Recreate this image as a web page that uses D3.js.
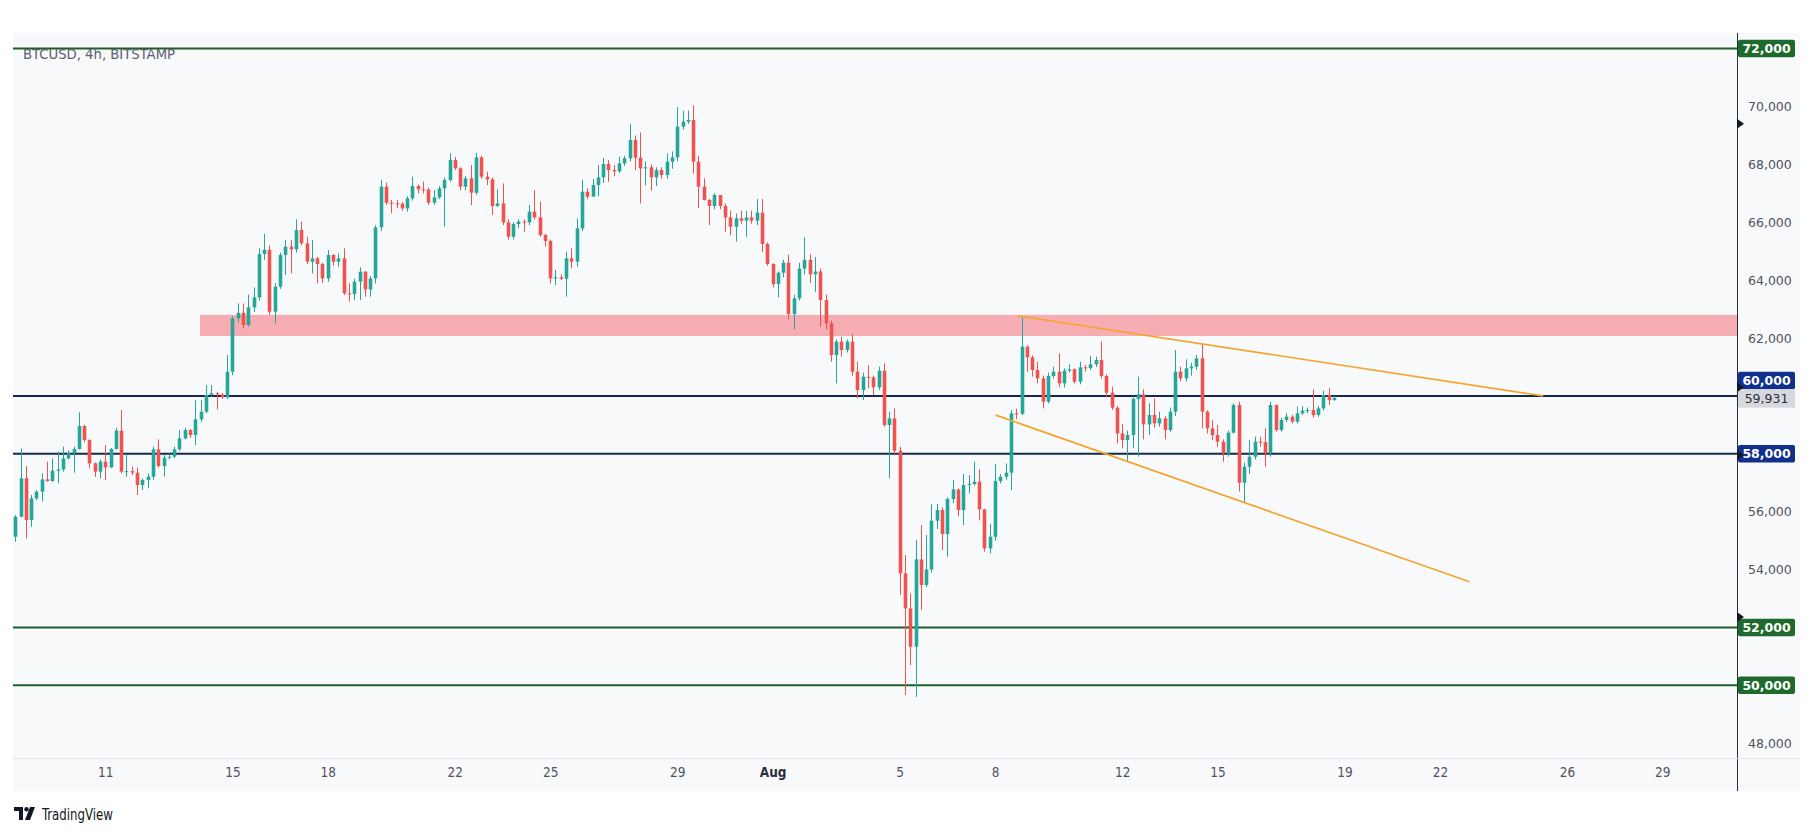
<!DOCTYPE html>
<html><head><meta charset="utf-8">
<script src="https://cdn.jsdelivr.net/npm/d3@7"></script>
<style>body{margin:0;background:#fff}</style></head>
<body><svg id="c" width="1815" height="836"></svg>
<script>
// ---- data ----
const symbolLabel = "BTCUSD, 4h, BITSTAMP";
const firstOpen = 55136;
const startDay = -17 / 6;            // first candle: 8 Jul 04:00, in days from 11 Jul 00:00
const candleStepDays = 1 / 6;        // 4h candles
const closes = [55827,57152,55712,56460,56690,57117,57060,57417,57460,57843,58016,58166,58960,58477,57670,57383,57728,57532,58166,58800,
57383,57400,57350,56922,57095,57210,58154,57578,57866,57900,58154,58534,58822,58650,59191,59456,60032,60090,60050,59950,
60836,62680,62870,62450,63060,63405,64900,65050,62910,63773,64868,65156,65064,65732,65271,64637,64753,64557,64061,64868,
64637,64753,63543,63520,63946,64292,63681,64061,65824,67229,66676,66653,66640,66480,66826,67252,67137,67130,66676,66860,
67172,67460,68151,67863,67229,67517,67022,68243,67575,67483,66561,66653,65997,65501,65939,66020,66000,66365,66170,65559,
65351,64061,64100,64050,64753,64637,65789,67056,66884,67287,67552,68013,67805,67760,68036,68209,68842,68232,67863,67897,
67552,67805,67633,68093,68243,69303,69476,69533,68093,67229,66769,66562,66941,66562,66170,65847,66135,66054,66170,66054,
66331,65248,64557,63865,64257,64603,62829,63371,64400,64700,64200,64300,63314,62508,61413,61874,61586,61874,60837,60203,
60664,60640,60296,60872,58994,59224,58107,53867,52658,51333,54351,53464,54005,55688,56056,55227,56437,56770,56056,56920,
56955,57035,56079,54731,55135,57058,57208,57346,59397,59380,61701,61333,60895,60607,59800,60688,60837,60434,60872,60918,
60492,60987,60960,61091,61240,60688,60112,59593,58706,58476,58649,59893,60054,59017,59340,59052,59225,58821,59455,60837,
60607,60953,61010,61298,59455,58879,58649,58418,58015,58729,59685,57000,57554,57900,58418,58400,58015,59685,58821,59167,
59282,59109,59397,59490,59513,59340,59570,60031,59858,59931];
const highs = [55885,58188,57578,56575,56750,57325,57728,57844,58073,58246,58120,58246,59433,59000,58500,57700,57800,58304,58200,58900,
59513,57993,57555,57532,57150,57325,58246,58500,57950,58000,58250,58822,58900,58850,59860,59860,60377,60377,60147,60100,
61412,62750,63200,63190,63500,63750,65100,65600,65200,63900,64950,65386,65386,66100,66020,65500,65386,64800,64600,65040,
64900,64926,65098,63888,64050,64442,64315,64150,65900,67460,67367,66770,66770,66700,66900,67575,67300,67402,67200,67114,
67250,67550,68381,68250,67900,67600,67978,68400,68300,67748,67550,67137,67344,66100,66000,66100,66100,66596,67114,66711,
65600,65400,64350,64200,64983,65098,66135,67460,67172,67500,67978,68220,68150,67978,68266,68300,69391,69000,69100,68100,
68000,67900,67900,68381,68450,69979,69852,69860,70040,68300,67517,66800,67000,66900,66654,66400,66300,66400,66400,66400,
66800,66800,65300,64580,64300,64700,64880,63500,64600,65480,64900,64800,64400,63500,62600,61950,62047,61950,62139,61183,
60800,61068,60700,61010,61126,59455,59570,58240,54501,53176,55020,55538,55193,56264,56264,56150,56500,57093,56800,57300,
57265,57727,57462,56100,55573,57646,57300,57670,59512,59560,62715,61750,61400,61183,60700,60800,61010,61471,60950,61091,
60950,61183,61067,61379,61355,61874,60750,60320,59650,59028,58800,60000,60665,60227,59743,59916,59455,59300,59600,61586,
61010,61263,61148,61413,61816,59500,59167,59000,58500,58800,59743,59800,57700,58476,58591,58591,58879,59800,59700,59250,
59400,59340,59628,59650,59600,60227,59650,60180,60261,60000];
const lows = [54963,55800,55078,55480,56400,56345,57036,57030,56980,57382,57800,57348,58150,58400,57500,57200,57150,57094,57500,58150,
57325,57210,57267,56575,56750,56807,57100,57530,57210,57800,57850,58100,58500,58550,58304,59100,59400,59974,59536,59900,
59900,60720,62550,62330,62400,62900,63300,64700,62800,62507,63700,64177,64235,64950,65200,64550,64234,63889,63900,63946,
64500,64465,63485,63255,63313,63313,63428,63428,63888,65700,66600,66308,66480,66400,66365,66750,67000,66999,66600,66600,
66800,65847,67400,67800,67100,67100,66596,66950,67500,67287,66250,66538,65900,65400,65400,65800,65674,65900,66100,65500,
65156,63888,63830,64000,63428,64407,64464,65700,66800,66900,66896,67360,67400,67590,67700,67950,68100,67805,66654,67272,
67091,67253,67500,67500,67850,68100,69200,69400,67675,66493,66750,65904,66450,66450,65674,65547,65339,65950,65500,65950,
65900,64971,64500,63750,63400,64100,62645,62300,63300,64200,63900,63600,62392,62300,61183,60434,61356,61500,60700,59916,
59858,60261,60031,60200,58937,57150,58000,53119,49663,50700,49605,52600,53400,53900,55400,54674,54443,56300,55849,55540,
56632,56900,55700,54615,54558,55000,56978,57100,56748,59200,59340,60837,60665,60434,59570,59743,60600,60300,60296,60800,
60434,60400,60837,60900,61000,60600,59973,59513,58361,58188,57727,58188,57900,58499,58649,58900,58937,58499,58763,59300,
60500,60500,60700,60900,58879,58706,58476,58245,57727,57900,58700,56700,56300,57300,57800,58245,57554,57900,58764,58764,
59100,59050,59050,59340,59400,59250,59282,59500,59685,59830];

const levelPrices = [72000, 60000, 58000, 52000, 50000];
const levelKinds  = ["green", "blue", "blue", "green", "green"];
const axisPrices  = [48000, 54000, 56000, 62000, 64000, 66000, 68000, 70000];
const markerPrices = [69400, 60300, 57960, 52360];
const lastPrice = 59931;

const dateTickDays   = [0, 4, 7, 11, 14, 18, 21, 25, 28, 32, 35, 39, 42, 46, 49];
const dateTickLabels = ["11","15","18","22","25","29","Aug","5","8","12","15","19","22","26","29"];

const zoneLow = 62070, zoneHigh = 62800, zoneStartDay = 2.98;
const upperTrend = [[28.70, 62771], [45.25, 60000]];
const lowerTrend = [[28.02, 59337], [42.93, 53582]];

// ---- layout ----
const svg = d3.select("#c");
const L = 13, R = 1737, T = 33, B = 758, AXR = 1800, AXB = 791;
const x = d3.scaleLinear().domain([-2.905, 51.35]).range([L, R]);
const y = d3.scaleLinear().domain([47490, 72539]).range([B, T]);
const COL = {up: "#26a69a", down: "#ef5350", green: "#1c5f28", blue: "#13294f",
             gBox: "#1d6a2c", bBox: "#10308c"};

svg.append("rect").attr("x", L).attr("y", T).attr("width", AXR - L).attr("height", AXB - T).attr("fill", "#f8f9fb");
svg.append("defs").append("clipPath").attr("id", "plot")
  .append("rect").attr("x", L).attr("y", T).attr("width", R - L).attr("height", B - T);
const g = svg.append("g").attr("clip-path", "url(#plot)");

// pink zone
g.append("rect").attr("x", x(zoneStartDay)).attr("width", R - x(zoneStartDay))
  .attr("y", y(zoneHigh)).attr("height", y(zoneLow) - y(zoneHigh)).attr("fill", "#f5adb3");

// levels
levelPrices.forEach((p, i) => {
  g.append("line").attr("x1", L).attr("x2", R).attr("y1", y(p)).attr("y2", y(p))
    .attr("stroke", COL[levelKinds[i]]).attr("stroke-width", 2);
});

// candles
const candles = closes.map((c, i) => ({
  t: startDay + i * candleStepDays, o: i ? closes[i - 1] : firstOpen, h: highs[i], l: lows[i], c
}));
const cg = g.append("g");
const bw = 3.6;
candles.forEach(d => {
  const col = d.c >= d.o ? COL.up : COL.down;
  const cx = Math.round(x(d.t)) + 0.5;
  cg.append("line").attr("x1", cx).attr("x2", cx).attr("y1", y(d.h)).attr("y2", y(d.l))
    .attr("stroke", col).attr("stroke-width", 1);
  const top = y(Math.max(d.o, d.c)), bot = y(Math.min(d.o, d.c));
  cg.append("rect").attr("x", cx - bw / 2).attr("width", bw)
    .attr("y", top).attr("height", Math.max(1, bot - top)).attr("fill", col);
});

// trend lines
const tl = d3.line().x(d => x(d[0])).y(d => y(d[1]));
[upperTrend, lowerTrend].forEach(seg => {
  g.append("path").attr("d", tl(seg)).attr("fill", "none").attr("stroke", "#f5a42a").attr("stroke-width", 1.7);
});

// separators
svg.append("line").attr("x1", R + 0.5).attr("x2", R + 0.5).attr("y1", T).attr("y2", AXB).attr("stroke", "#2a2e39").attr("stroke-width", 1);
svg.append("line").attr("x1", L).attr("x2", AXR).attr("y1", B + 0.5).attr("y2", B + 0.5).attr("stroke", "#e0e3eb").attr("stroke-width", 1);

// right price axis
const ya = svg.append("g").attr("transform", `translate(${R},0)`)
  .call(d3.axisRight(y).tickValues(axisPrices).tickFormat(d3.format(",")).tickSize(0).tickPadding(11));
ya.select(".domain").remove();
ya.selectAll("text").attr("font-family", "'DejaVu Sans', Verdana, sans-serif").attr("font-size", 12.5).attr("fill", "#50535e");

// bottom date axis
const xa = svg.append("g").attr("transform", `translate(0,${B})`)
  .call(d3.axisBottom(x).tickValues(dateTickDays).tickFormat((d, i) => dateTickLabels[i]).tickSize(0).tickPadding(9));
xa.select(".domain").remove();
xa.selectAll("text").attr("font-family", "'Liberation Sans Narrow','DejaVu Sans Condensed','Roboto Condensed',Roboto,sans-serif")
  .attr("font-size", 13.5).attr("fill", "#50535e")
  .attr("font-weight", (d, i) => dateTickLabels[i] === "Aug" ? "bold" : "normal")
  .attr("fill", (d, i) => dateTickLabels[i] === "Aug" ? "#2a2e39" : "#50535e");

// level boxes on the axis
const boxW = 57, boxH = 17.5;
const lastY = y(lastPrice);
levelPrices.forEach((p, i) => {
  let cy = y(p);
  if (p === 60000) cy = lastY - boxH - 0.5 - boxH / 2 + boxH / 2 - boxH / 2 + 0; // sits just above last price box
  if (p === 60000) cy = lastY - boxH;
  svg.append("rect").attr("x", R + 1).attr("y", cy - boxH / 2).attr("width", boxW).attr("height", boxH)
    .attr("rx", 2).attr("fill", levelKinds[i] === "green" ? COL.gBox : COL.bBox);
  svg.append("text").attr("x", R + 1 + boxW / 2).attr("y", cy + 4.5).attr("text-anchor", "middle")
    .attr("font-family", "'DejaVu Sans', Verdana, sans-serif").attr("font-size", 12.5).attr("font-weight", "bold")
    .attr("fill", "#fff").text(d3.format(",")(p));
});
svg.append("rect").attr("x", R + 1).attr("y", lastY - boxH / 2).attr("width", boxW).attr("height", boxH + 1)
  .attr("fill", "#d6d8dd");
svg.append("text").attr("x", R + 1 + boxW / 2).attr("y", lastY + 5).attr("text-anchor", "middle")
  .attr("font-family", "'DejaVu Sans', Verdana, sans-serif").attr("font-size", 12.5)
  .attr("fill", "#2a2e39").text(d3.format(",")(lastPrice));

// small markers on the axis edge
markerPrices.forEach(p => {
  const yy = y(p);
  svg.append("path").attr("d", `M${R},${yy - 5}L${R + 7},${yy}L${R},${yy + 5}Z`).attr("fill", "#131722");
});

// symbol label
svg.append("text").attr("x", 23).attr("y", 59).attr("font-family", "'Liberation Sans Narrow','DejaVu Sans Condensed',Roboto,sans-serif")
  .attr("font-size", 14).attr("fill", "#5d606b").attr("textLength", 152).attr("lengthAdjust", "spacingAndGlyphs").text(symbolLabel);

// TradingView logo
const lg = svg.append("g").attr("transform", "translate(14,807)").attr("fill", "#131722");
lg.append("path").attr("d", "M0,0H9V13H5V4H0Z");
lg.append("circle").attr("cx", 12.5).attr("cy", 2.2).attr("r", 2.2);
lg.append("path").attr("d", "M16,0H21L16,13H11Z");
svg.append("text").attr("x", 42).attr("y", 820).attr("font-family", "'Liberation Sans Narrow','DejaVu Sans Condensed',Roboto,sans-serif")
  .attr("font-size", 15).attr("fill", "#131722").attr("textLength", 71).attr("lengthAdjust", "spacingAndGlyphs").text("TradingView");
</script></body></html>
